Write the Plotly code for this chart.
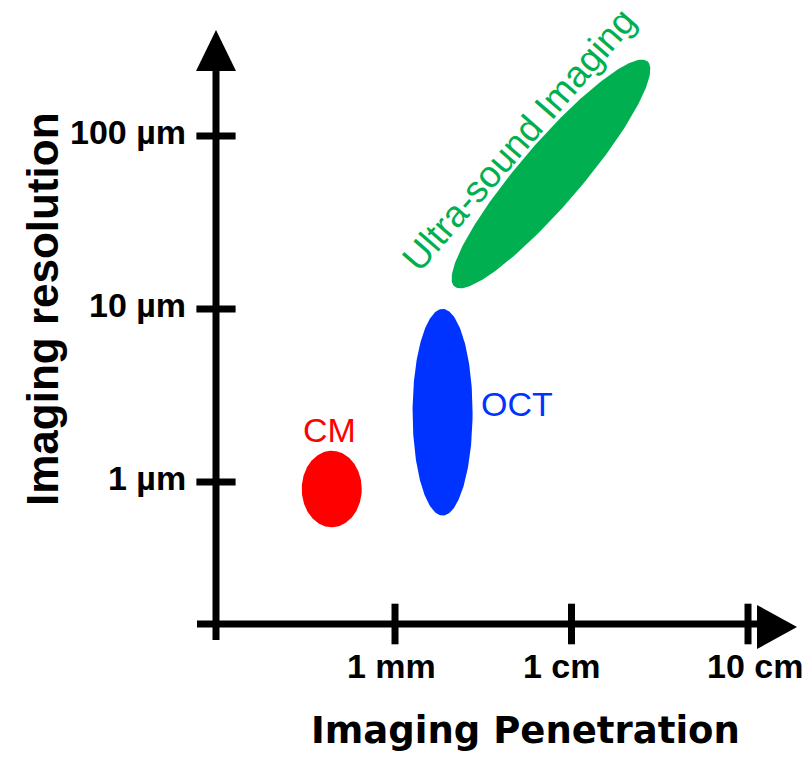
import numpy as np
import plotly.graph_objects as go

# ---------------- data ----------------
x_tick_vals = [1, 10, 100]            # penetration in mm
x_tick_labels = ["1 mm", "1 cm", "10 cm"]
y_tick_vals = [1, 10, 100]            # resolution in µm
y_tick_labels = ["1 µm", "10 µm", "100 µm"]

region_names = ["CM", "OCT", "Ultra-sound Imaging"]
region_colors = ["#FF0000", "#0033FF", "#00B050"]
center_mm = [0.438, 1.86, 7.65]       # ellipse centres (penetration, mm)
center_um = [0.911, 2.53, 60.3]       # ellipse centres (resolution, µm)
semi_a_dec = [0.170, 0.170, 0.850]    # semi-axis (decades) along tilt direction
semi_b_dec = [0.221, 0.597, 0.177]    # semi-axis (decades) perpendicular
tilt_deg = [0, 0, 50]

label_mm = [0.428, 4.88, 5.04]
label_um = [2.0, 2.82, 96.0]
label_angle = [0, 0, -49]
label_size = [34, 34, 37]

# ---------------- geometry of the canvas ----------------
W, H = 807, 758
X_RANGE = [-2.238, 2.3342]   # log10(mm)
Y_RANGE = [-1.5954, 2.7861]  # log10(µm)


def px(xp):
    return xp / W


def py(yp):
    return 1 - yp / H


fig = go.Figure()

# ellipses
t = np.linspace(0, 2 * np.pi, 241)
for name, col, cx, cy, a, b, th in zip(region_names, region_colors, center_mm, center_um,
                                       semi_a_dec, semi_b_dec, tilt_deg):
    r = np.deg2rad(th)
    lx = np.log10(cx) + a * np.cos(r) * np.cos(t) - b * np.sin(r) * np.sin(t)
    ly = np.log10(cy) + a * np.sin(r) * np.cos(t) + b * np.cos(r) * np.sin(t)
    fig.add_trace(go.Scatter(x=10 ** lx, y=10 ** ly, mode="lines", fill="toself",
                             fillcolor=col, line=dict(color=col, width=0),
                             hoverinfo="skip", name=name))

# axis crossing values (data coordinates of the drawn axes)
AXIS_Y_UM = 10 ** (Y_RANGE[1] - 624 / H * (Y_RANGE[1] - Y_RANGE[0]))
AXIS_X_MM = 10 ** (X_RANGE[0] + 216 / W * (X_RANGE[1] - X_RANGE[0]))

# axis lines and arrowheads
LW = 7
shapes = [
    dict(type="line", xref="paper", yref="paper", x0=px(216), x1=px(216), y0=py(640), y1=py(60),
         line=dict(color="black", width=LW)),
    dict(type="line", xref="paper", yref="paper", x0=px(197), x1=px(765), y0=py(624), y1=py(624),
         line=dict(color="black", width=LW)),
    dict(type="path", xref="paper", yref="paper",
         path=f"M {px(196)} {py(71)} L {px(236)} {py(71)} L {px(216)} {py(30)} Z",
         fillcolor="black", line=dict(color="black", width=0)),
    dict(type="path", xref="paper", yref="paper",
         path=f"M {px(757)} {py(605)} L {px(757)} {py(649)} L {px(797)} {py(627)} Z",
         fillcolor="black", line=dict(color="black", width=0)),
]

# tick marks
fig.add_trace(go.Scatter(x=x_tick_vals, y=[AXIS_Y_UM] * len(x_tick_vals), mode="markers",
                         marker=dict(symbol="line-ns", size=29, line=dict(color="black", width=LW)),
                         hoverinfo="skip"))
fig.add_trace(go.Scatter(x=[AXIS_X_MM] * len(y_tick_vals), y=y_tick_vals, mode="markers",
                         marker=dict(symbol="line-ew", size=28, line=dict(color="black", width=LW)),
                         hoverinfo="skip"))

annotations = []
tick_font = dict(family="Liberation Sans, Arial", size=34, color="black", weight="bold")
x_label_shift = [-4, -10, 7]
for v, lab, s in zip(x_tick_vals, x_tick_labels, x_label_shift):
    annotations.append(dict(x=np.log10(v), xref="x", y=py(666), yref="paper", text=lab,
                            showarrow=False, xanchor="center", yanchor="middle", xshift=s,
                            font=tick_font))
for v, lab in zip(y_tick_vals, y_tick_labels):
    annotations.append(dict(x=px(188), xref="paper", y=np.log10(v), yref="y", text=lab,
                            showarrow=False, xanchor="right", yanchor="middle", yshift=4,
                            font=tick_font))

# region labels
for name, col, lx, ly, ang, sz in zip(region_names, region_colors, label_mm, label_um,
                                      label_angle, label_size):
    annotations.append(dict(x=np.log10(lx), y=np.log10(ly), xref="x", yref="y", text=name,
                            showarrow=False, textangle=ang, xanchor="center", yanchor="middle",
                            font=dict(family="Liberation Sans, Arial", size=sz, color=col)))

# axis titles
annotations.append(dict(x=px(525), y=py(730), xref="paper", yref="paper", text="Imaging Penetration",
                        showarrow=False, xanchor="center", yanchor="middle",
                        font=dict(family="DejaVu Sans", size=37, color="black", weight="bold")))
annotations.append(dict(x=px(43), y=py(309), xref="paper", yref="paper", text="Imaging resolution",
                        showarrow=False, textangle=-90, xanchor="center", yanchor="middle",
                        font=dict(family="Liberation Sans, Arial", size=44, color="black", weight="bold")))

fig.update_layout(
    width=W, height=H,
    margin=dict(l=0, r=0, t=0, b=0),
    paper_bgcolor="white", plot_bgcolor="white",
    showlegend=False,
    xaxis=dict(type="log", range=X_RANGE, visible=False, fixedrange=True),
    yaxis=dict(type="log", range=Y_RANGE, visible=False, fixedrange=True),
    shapes=shapes,
    annotations=annotations,
)

fig.write_html("out.html")
